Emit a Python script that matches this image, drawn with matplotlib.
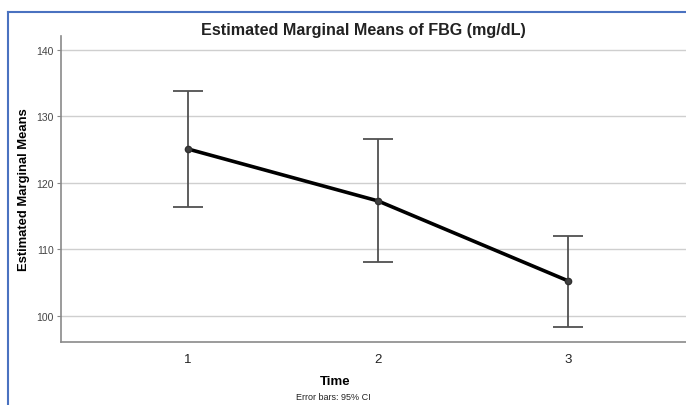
import matplotlib
matplotlib.use("Agg")
import matplotlib.pyplot as plt
from matplotlib.lines import Line2D

plt.rcParams["font.family"] = ["Liberation Sans", "DejaVu Sans"]

# estimated marginal means with 95% CI
TIME = [1, 2, 3]
MEANS = [125.1, 117.3, 105.3]
CI_LOW = [116.4, 108.1, 98.4]
CI_HIGH = [133.9, 126.6, 112.1]
Y_TICKS = [100, 110, 120, 130, 140]

fig = plt.figure(figsize=(6.86, 4.06), dpi=100)
ax = fig.add_axes([61 / 686, 63 / 406, 634 / 686, 306 / 406])

yerr = [[m - lo for m, lo in zip(MEANS, CI_LOW)],
        [hi - m for m, hi in zip(MEANS, CI_HIGH)]]
ax.errorbar(TIME, MEANS, yerr=yerr, fmt="none", ecolor="#505050",
            elinewidth=1.3, capsize=10.8, capthick=1.3, zorder=3)
ax.plot(TIME, MEANS, color="black", linewidth=2.6, zorder=4)
ax.plot(TIME, MEANS, "o", color="#404040", markersize=4.5,
        markeredgecolor="#303030", zorder=5)

ax.set_xlim(0.33, 3.67)
ax.set_ylim(96.09, 142.1)
ax.set_xticks(TIME)
ax.set_xticklabels([str(t) for t in TIME], fontsize=9.5, color="#222222")
ax.set_yticks(Y_TICKS)
ax.set_yticklabels([str(v) for v in Y_TICKS], fontsize=7.5, color="#444444")
ax.tick_params(axis="x", length=0, pad=8)
ax.tick_params(axis="y", length=3, color="#888888", pad=2)
ax.grid(axis="y", color="#cfcfcf", linewidth=1.0)
ax.set_axisbelow(True)
for s in ["top", "right"]:
    ax.spines[s].set_visible(False)
for s in ["left", "bottom"]:
    ax.spines[s].set_color("#8a8a8a")
    ax.spines[s].set_linewidth(1.2)

ax.set_ylabel("Estimated Marginal Means", fontsize=9.4, fontweight="bold",
              labelpad=5)
fig.text(363 / 686, 1 - 30 / 406,
         "Estimated Marginal Means of FBG (mg/dL)",
         ha="center", va="center", fontsize=11.6, fontweight="bold",
         color="#222222")
fig.text(335 / 686, 1 - 382 / 406, "Time", ha="center", va="center",
         fontsize=9.5, fontweight="bold")
fig.text(333 / 686, 1 - 398 / 406, "Error bars: 95% CI", ha="center",
         va="center", fontsize=6.5, color="#222222")

# blue frame around the output panel
blue = "#4a72c0"
fig.add_artist(Line2D([8 / 686, 1.0], [1 - 13 / 406, 1 - 13 / 406],
                      color=blue, linewidth=1.5, transform=fig.transFigure))
fig.add_artist(Line2D([8 / 686, 8 / 686], [0, 1 - 13 / 406],
                      color=blue, linewidth=1.5, transform=fig.transFigure))

fig.savefig("out.png", dpi=100)
